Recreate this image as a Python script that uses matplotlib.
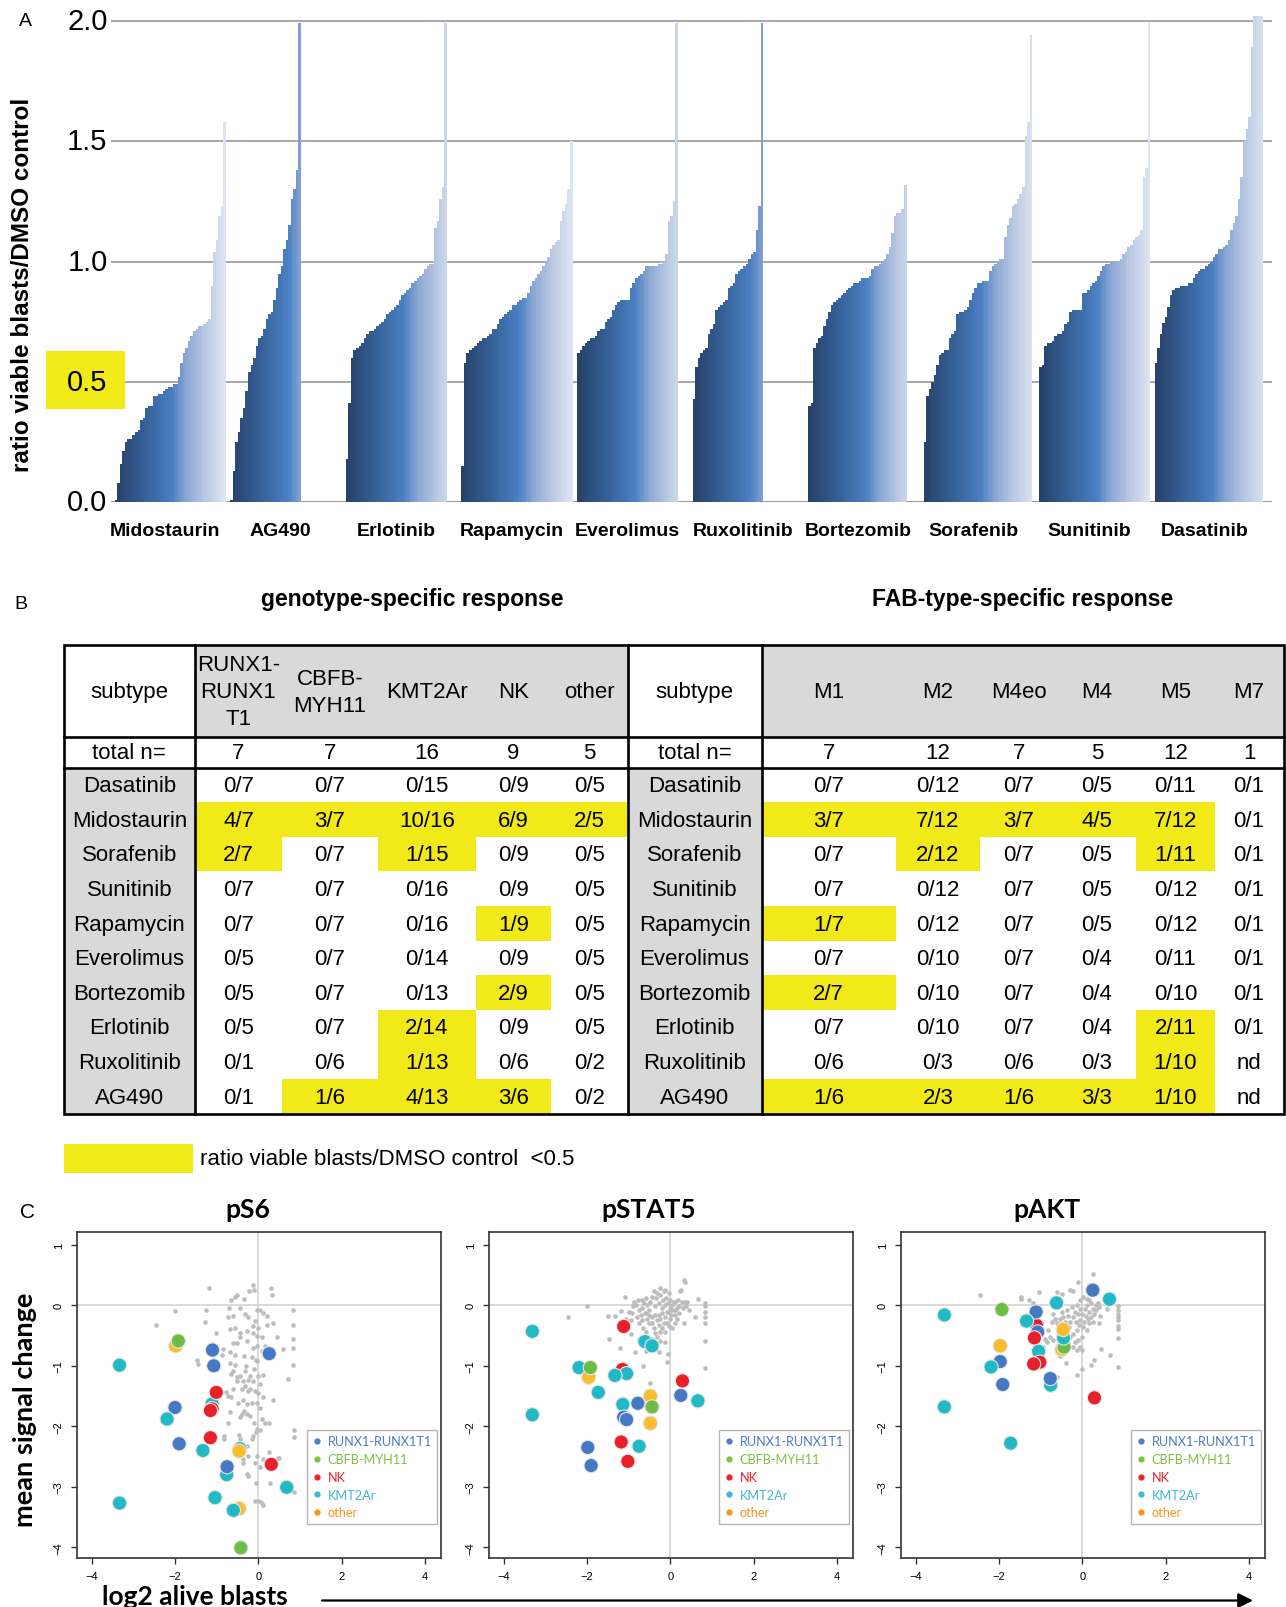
import numpy as np
import matplotlib
matplotlib.use('Agg')
import matplotlib.pyplot as plt
from matplotlib.colors import LinearSegmentedColormap
from matplotlib.patches import Rectangle
from matplotlib.lines import Line2D

W, H = 1286, 1608

# ---------------- Panel A data ----------------
drugs = ['Midostaurin', 'AG490', 'Erlotinib', 'Rapamycin', 'Everolimus',
         'Ruxolitinib', 'Bortezomib', 'Sorafenib', 'Sunitinib', 'Dasatinib']
midostaurin = [0.01, 0.08, 0.16, 0.21, 0.25, 0.26, 0.26, 0.28, 0.29, 0.30, 0.34, 0.35, 0.39, 0.40,
               0.40, 0.44, 0.44, 0.45, 0.45, 0.46, 0.47, 0.48, 0.48, 0.49, 0.49, 0.52, 0.58, 0.62,
               0.64, 0.67, 0.69, 0.71, 0.72, 0.73, 0.73, 0.74, 0.75, 0.76, 0.90, 1.04, 1.09, 1.19,
               1.23, 1.58]
ag490 = [0.01, 0.13, 0.25, 0.29, 0.35, 0.39, 0.46, 0.54, 0.57, 0.60, 0.65, 0.68, 0.69, 0.72,
         0.76, 0.78, 0.79, 0.84, 0.89, 0.95, 0.98, 1.05, 1.09, 1.15, 1.26, 1.30, 1.38, 1.99]
erlotinib = [0.18, 0.41, 0.60, 0.63, 0.64, 0.65, 0.66, 0.68, 0.70, 0.71, 0.71, 0.72, 0.73, 0.74,
             0.75, 0.76, 0.78, 0.79, 0.80, 0.81, 0.82, 0.84, 0.86, 0.87, 0.88, 0.89, 0.91, 0.92,
             0.93, 0.94, 0.95, 0.97, 0.98, 0.99, 0.99, 1.14, 1.17, 1.26, 1.31, 1.99]
rapamycin = [0.15, 0.58, 0.62, 0.63, 0.64, 0.65, 0.66, 0.67, 0.68, 0.68, 0.69, 0.70, 0.72, 0.72,
             0.74, 0.76, 0.77, 0.78, 0.79, 0.80, 0.82, 0.82, 0.83, 0.84, 0.85, 0.85, 0.87, 0.90,
             0.92, 0.93, 0.95, 0.96, 0.98, 1.00, 1.02, 1.05, 1.07, 1.08, 1.09, 1.17, 1.21, 1.24,
             1.30, 1.50]
everolimus = [0.62, 0.63, 0.65, 0.66, 0.67, 0.68, 0.68, 0.69, 0.71, 0.72, 0.72, 0.75, 0.76, 0.77,
              0.80, 0.82, 0.83, 0.84, 0.84, 0.84, 0.84, 0.89, 0.91, 0.93, 0.94, 0.95, 0.96, 0.98,
              0.98, 0.98, 0.98, 0.98, 0.99, 0.99, 1.00, 1.03, 1.17, 1.19, 1.25, 1.99]
ruxolitinib = [0.43, 0.56, 0.60, 0.62, 0.63, 0.64, 0.70, 0.72, 0.74, 0.80, 0.81, 0.82, 0.83, 0.84,
               0.89, 0.90, 0.91, 0.95, 0.96, 0.97, 0.98, 0.99, 1.01, 1.03, 1.04, 1.13, 1.23, 1.99]
bortezomib = [0.40, 0.41, 0.64, 0.66, 0.68, 0.69, 0.73, 0.76, 0.79, 0.82, 0.83, 0.84, 0.85, 0.86,
              0.87, 0.88, 0.89, 0.90, 0.91, 0.91, 0.92, 0.93, 0.93, 0.93, 0.94, 0.97, 0.98, 0.98,
              0.99, 1.00, 1.01, 1.03, 1.06, 1.12, 1.19, 1.20, 1.20, 1.22, 1.32]
sorafenib = [0.25, 0.44, 0.47, 0.50, 0.53, 0.57, 0.61, 0.62, 0.63, 0.63, 0.68, 0.70, 0.71, 0.78,
             0.79, 0.79, 0.80, 0.81, 0.84, 0.87, 0.89, 0.91, 0.91, 0.92, 0.92, 0.92, 0.96, 0.98,
             0.99, 1.00, 1.01, 1.01, 1.10, 1.15, 1.18, 1.23, 1.24, 1.26, 1.28, 1.31, 1.52, 1.58,
             1.94]
sunitinib = [0.56, 0.57, 0.65, 0.66, 0.66, 0.67, 0.69, 0.70, 0.70, 0.71, 0.74, 0.75, 0.79, 0.80,
             0.80, 0.80, 0.80, 0.87, 0.87, 0.88, 0.90, 0.91, 0.92, 0.94, 0.96, 0.98, 0.99, 0.99,
             1.00, 1.00, 1.00, 1.00, 1.01, 1.03, 1.04, 1.06, 1.07, 1.09, 1.10, 1.11, 1.13, 1.35,
             1.39, 1.99]
dasatinib = [0.58, 0.64, 0.70, 0.745, 0.77, 0.81, 0.86, 0.88, 0.89, 0.89, 0.90, 0.90, 0.90, 0.91,
             0.91, 0.93, 0.95, 0.96, 0.97, 0.97, 0.98, 0.99, 1.00, 1.02, 1.03, 1.05, 1.05, 1.06,
             1.07, 1.09, 1.13, 1.16, 1.19, 1.26, 1.35, 1.50, 1.55, 1.60, 1.89, 2.02, 2.02, 2.02,
             2.02]
bar_values = [midostaurin, ag490, erlotinib, rapamycin, everolimus,
              ruxolitinib, bortezomib, sorafenib, sunitinib, dasatinib]
yticksA = [0.0, 0.5, 1.0, 1.5, 2.0]
ytick_labelsA = ['0.0', '0.5', '1.0', '1.5', '2.0']

# ---------------- Panel B data ----------------
geno_cols = ['RUNX1-\nRUNX1\nT1', 'CBFB-\nMYH11', 'KMT2Ar', 'NK', 'other']
geno_total = ['7', '7', '16', '9', '5']
fab_cols = ['M1', 'M2', 'M4eo', 'M4', 'M5', 'M7']
fab_total = ['7', '12', '7', '5', '12', '1']
table_drugs = ['Dasatinib', 'Midostaurin', 'Sorafenib', 'Sunitinib', 'Rapamycin',
               'Everolimus', 'Bortezomib', 'Erlotinib', 'Ruxolitinib', 'AG490']
geno_resp = [
    ['0/7', '0/7', '0/15', '0/9', '0/5'],
    ['4/7', '3/7', '10/16', '6/9', '2/5'],
    ['2/7', '0/7', '1/15', '0/9', '0/5'],
    ['0/7', '0/7', '0/16', '0/9', '0/5'],
    ['0/7', '0/7', '0/16', '1/9', '0/5'],
    ['0/5', '0/7', '0/14', '0/9', '0/5'],
    ['0/5', '0/7', '0/13', '2/9', '0/5'],
    ['0/5', '0/7', '2/14', '0/9', '0/5'],
    ['0/1', '0/6', '1/13', '0/6', '0/2'],
    ['0/1', '1/6', '4/13', '3/6', '0/2']]
fab_resp = [
    ['0/7', '0/12', '0/7', '0/5', '0/11', '0/1'],
    ['3/7', '7/12', '3/7', '4/5', '7/12', '0/1'],
    ['0/7', '2/12', '0/7', '0/5', '1/11', '0/1'],
    ['0/7', '0/12', '0/7', '0/5', '0/12', '0/1'],
    ['1/7', '0/12', '0/7', '0/5', '0/12', '0/1'],
    ['0/7', '0/10', '0/7', '0/4', '0/11', '0/1'],
    ['2/7', '0/10', '0/7', '0/4', '0/10', '0/1'],
    ['0/7', '0/10', '0/7', '0/4', '2/11', '0/1'],
    ['0/6', '0/3', '0/6', '0/3', '1/10', 'nd'],
    ['1/6', '2/3', '1/6', '3/3', '1/10', 'nd']]

# ---------------- Panel C data ----------------
group_names = ['RUNX1-RUNX1T1', 'CBFB-MYH11', 'NK', 'KMT2Ar', 'other']
group_codes = ['R', 'C', 'N', 'K', 'O']

ps6_gray_x = [-1.18, -0.14, 0.30, 0.32, -0.22, -0.10, -0.52, -0.66, -0.34, -0.56, -1.26, -2.00, -0.70, -0.44,
              -0.04, 0.04, 0.12, 0.20, 0.84, -2.46, -1.28, -0.74, -0.60, -0.32, -0.24, -0.08, -0.14, 0.00,
              0.20, 0.36, 0.84, -1.02, -0.68, -0.56, -0.44, -0.28, -0.12, -0.04, 0.08, 0.44, 0.84, -1.08,
              -0.86, -0.62, -0.52, -0.44, -0.28, -0.12, -0.04, 0.16, 0.60, 0.84, -0.88, -0.68, -0.55, -0.34,
              -0.16, -0.04, 0.08, -1.48, -1.44, -0.69, -0.56, -0.30, -0.10, -0.06, 0.84, -0.60, -0.52, -0.32,
              -0.66, -0.44, -0.20, -0.02, 0.10, 0.70, -0.52, -0.36, -0.24, -0.12, 0.04, -0.32, -0.60, -0.40,
              -0.26, -0.20, -0.08, 0.00, 0.12, 0.34, -0.78, -0.72, -0.66, -0.48, -0.36, -0.28, -0.16, -0.04,
              0.04, -0.34, -0.28, -0.44, -0.68, -0.40, -0.20, 0.08, 0.16, 0.26, -0.72, -0.10, -0.04, -0.06,
              0.04, 0.86, 0.86, -0.82, -0.82, -0.46, -0.44, -0.12, -0.16, -0.48, -0.28, -0.24, -0.38, -0.36,
              -0.04, -0.08, 0.12, 0.26, 0.46, 0.50, -0.28, -0.26, -0.06, 0.28, 0.86, -0.08, 0.00, 0.12,
              0.06, 0.04]
ps6_gray_y = [0.29, 0.34, 0.29, 0.17, 0.24, 0.26, 0.17, 0.08, 0.10, 0.13, -0.07, -0.10, -0.04, -0.04,
              -0.07, -0.07, -0.13, -0.17, -0.08, -0.33, -0.27, -0.20, -0.18, -0.15, -0.20, -0.26, -0.34, -0.37,
              -0.33, -0.29, -0.33, -0.45, -0.40, -0.37, -0.45, -0.42, -0.45, -0.51, -0.53, -0.53, -0.56, -0.64,
              -0.73, -0.63, -0.62, -0.53, -0.59, -0.70, -0.67, -0.67, -0.72, -0.70, -0.83, -0.78, -0.82, -0.84,
              -0.86, -0.92, -0.75, -0.90, -0.97, -0.95, -0.99, -1.00, -1.06, -0.90, -0.99, -1.08, -1.19, -1.08,
              -1.13, -1.17, -1.17, -1.17, -1.16, -1.22, -1.25, -1.25, -1.23, -1.25, -1.30, -1.33, -1.39, -1.39,
              -1.41, -1.39, -1.41, -1.45, -1.52, -1.56, -1.43, -1.50, -1.52, -1.61, -1.56, -1.63, -1.61, -1.61,
              -1.69, -1.74, -1.80, -1.84, -1.76, -1.80, -1.83, -1.88, -1.94, -1.95, -1.94, -1.95, -2.05, -2.10,
              -2.07, -2.06, -2.17, -2.16, -2.21, -2.15, -2.21, -2.16, -2.21, -2.29, -2.32, -2.49, -2.54, -2.60,
              -2.49, -2.60, -2.54, -2.43, -2.53, -2.53, -2.79, -2.83, -2.93, -2.93, -3.09, -3.23, -3.23, -3.31,
              -3.26, -2.68]
ps6_col_x = [-3.33, -3.33, -1.98, -1.92, -1.10, -1.07, 0.26, -1.11, -1.01, -1.11, -1.15, -2.00, -2.19,
             -1.90, -1.15, -1.33, -0.44, -0.46, 0.31, -0.76, -0.75, 0.68, -1.04, -0.46, -0.60, -0.42]
ps6_col_y = [-0.99, -3.27, -0.67, -0.59, -0.74, -1.00, -0.80, -1.63, -1.44, -1.71, -1.74, -1.69, -1.88,
             -2.29, -2.19, -2.40, -2.37, -2.41, -2.63, -2.80, -2.67, -3.01, -3.18, -3.36, -3.39, -4.01]
ps6_col_g = ['K', 'K', 'O', 'C', 'R', 'R', 'R', 'K', 'N', 'N', 'N', 'R', 'K',
             'R', 'N', 'K', 'K', 'O', 'N', 'K', 'R', 'K', 'K', 'O', 'K', 'C']

pstat5_gray_x = [-2.46, -2.00, -1.49, -1.33, -1.19, -1.10, -0.99, -0.90, -0.83, -0.77, -0.67, -0.69, -0.63,
                 -0.59, -0.55, -0.51, -0.48, -0.44, -0.40, -0.36, -0.34, -0.32, -0.28, -0.26, -0.24, -0.20,
                 -0.18, -0.16, -0.13, -0.12, -0.10, -0.08, -0.06, -0.04, -0.02, 0.00, 0.02, 0.04, 0.08, 0.10,
                 0.12, 0.16, 0.18, 0.20, 0.24, 0.26, 0.28, 0.30, 0.32, 0.36, 0.37, 0.40, 0.44, 0.59, 0.66,
                 0.82, 0.83, 0.83, 0.83, 0.83, 0.83, 0.83, -0.79, -0.75, -0.67, -0.66, -0.59, -0.55, -0.51,
                 -0.44, -0.40, -0.37, -0.32, -0.28, -0.26, -0.24, -0.20, -0.16, -0.12, -0.08, -0.04, 0.00,
                 0.04, 0.12, 0.32, -1.47, -1.21, -0.95, -0.85, -0.66, -0.58, -0.50, -0.28, -0.25, -0.13,
                 -0.06, -0.08, -0.44, -0.32, -0.75, -1.03, -1.05, -0.95, -0.91, -0.75, -1.07, -1.19, -0.62,
                 -0.87, -0.36, -0.44, -0.59, -0.51, -0.71, -0.28, -0.12, -0.20, -0.04, 0.12, 0.20, 0.04,
                 0.16, 0.36]
pstat5_gray_y = [-0.20, -0.01, -0.18, -0.17, -0.09, 0.14, -0.11, -0.01, 0.01, 0.09, 0.09, -0.05, 0.03,
                 0.12, 0.01, -0.08, 0.06, 0.14, 0.23, -0.02, 0.12, 0.20, 0.03, 0.17, 0.28, -0.05,
                 0.09, 0.23, 0.01, 0.25, 0.12, -0.11, 0.03, 0.20, -0.05, 0.09, -0.16, 0.01, 0.06, -0.08,
                 0.06, -0.22, 0.09, -0.02, 0.23, 0.25, 0.06, -0.05, 0.42, 0.39, -0.02, 0.06, -0.08, -0.19, 0.11,
                 0.03, -0.02, -0.11, -0.19, -0.30, -0.59, -1.03, -0.19, -0.30, -0.24, -0.38, -0.44, -0.22, -0.30,
                 -0.30, -0.38, -0.46, -0.24, -0.33, -0.44, -0.22, -0.38, -0.30, -0.44, -0.30, -0.35, -0.22,
                 -0.38, -0.30, -0.30, -0.55, -0.70, -0.48, -0.78, -1.01, -0.76, -1.28, -0.78, -0.59, -0.60,
                 -0.80, -0.93, -0.55, -0.52, -0.55, -0.38, -0.30, -0.24, -0.13, -0.08, -0.22, -0.41, -0.13,
                 0.06, -0.16, -0.19, -0.13, -0.16, -0.16, -0.16, -0.19, -0.13, -0.11, -0.16, -0.13, -0.08,
                 -0.05, 0.06]
pstat5_col_x = [-3.31, -3.31, -1.12, -0.61, -0.44, -2.19, -1.96, -1.92, -1.15, -1.05, -1.33, -1.73, 0.29,
                0.25, 0.66, -0.48, -0.44, -0.78, -1.14, -1.12, -1.05, -0.48, -1.98, -1.90, -1.18, -0.75,
                -1.02]
pstat5_col_y = [-0.43, -1.81, -0.35, -0.60, -0.67, -1.03, -1.19, -1.03, -1.06, -1.13, -1.16, -1.44, -1.25,
                -1.49, -1.58, -1.50, -1.68, -1.62, -1.64, -1.85, -1.89, -1.95, -2.35, -2.65, -2.26, -2.33,
                -2.58]
pstat5_col_g = ['K', 'K', 'N', 'K', 'K', 'K', 'O', 'C', 'N', 'K', 'K', 'K', 'N',
                'R', 'K', 'O', 'C', 'R', 'K', 'R', 'R', 'O', 'R', 'R', 'N', 'K', 'N']

pakt_gray_x = [-2.45, -1.48, -1.46, -1.27, -1.19, -1.03, -0.76, -0.60, -0.49, -0.30, -0.22, -0.10, 0.25,
               0.16, -0.05, 0.02, 0.10, 0.17, 0.21, 0.25, 0.33, 0.37, 0.41, 0.59, 0.85, 0.85, 0.85, 0.85,
               0.85, 0.85, 0.85, 0.85, 0.85, 0.67, 0.45, 0.29, 0.21, 0.00, -0.13, -0.40, -0.54, -0.62,
               -0.22, -0.10, -0.02, -0.14, -0.38, -0.74, -0.70, -0.66, -0.62, -0.58, -0.54, -0.50, -0.46,
               -0.42, -0.38, -0.34, -0.32, -0.29, -0.26, -0.22, -0.18, -0.16, -0.14, -0.13, -0.10, -0.08,
               -0.06, -0.05, -0.02, 0.00, 0.02, 0.03, 0.06, 0.08, 0.10, 0.11, 0.14, 0.16, 0.17, 0.21, 0.25,
               0.29, 0.33, 0.41, 0.43, -0.82, -0.78, -0.86, -0.95, -0.90, -0.54, -0.42, -0.30, -0.22, -0.46,
               -0.62, -0.18, -0.06, -0.70, -0.54]
pakt_gray_y = [0.17, 0.14, 0.11, 0.08, 0.03, 0.22, 0.06, 0.22, 0.19, 0.26, 0.23, 0.39, 0.52,
               0.34, 0.08, 0.14, 0.11, 0.08, 0.03, -0.06, 0.00, 0.03, -0.03, -0.06, -0.02, -0.08, -0.14, -0.19,
               -0.25, -0.35, -0.40, -0.54, -1.02, -0.82, -0.73, -0.90, -0.99, -1.05, -1.16, -0.96, -0.84, -1.19,
               -0.69, -0.58, -0.74, -0.74, -0.63, -0.28, -0.14, -0.22, -0.30, -0.41, -0.22, -0.11, -0.19,
               -0.28, -0.08, -0.17, -0.36, -0.28, -0.03, -0.19, -0.11, -0.28, 0.00, -0.41, -0.14, -0.33,
               -0.06, -0.25, -0.52, -0.14, -0.36, -0.28, -0.06, -0.17, -0.41, 0.00, -0.22, -0.30, -0.11, -0.19, -0.28,
               -0.14, -0.08, -0.30, -0.17, -0.41, -0.52, -0.61, -0.69, -0.55, -0.55, -0.47, -0.52, -0.47, -0.63,
               -0.69, -0.61, -0.69, -0.58, -0.80]
pakt_col_x = [-3.31, -3.31, -1.93, -1.97, -1.97, -2.19, -1.91, -1.72, -1.10, -1.11, -1.34, -1.07, -1.15,
              -1.05, -1.02, -1.17, -0.76, -0.77, -0.62, -0.49, -0.44, -0.45, -0.46, 0.25, 0.65, 0.29]
pakt_col_y = [-0.16, -1.68, -0.07, -0.67, -0.93, -1.02, -1.31, -2.28, -0.33, -0.11, -0.26, -0.44, -0.54,
              -0.76, -0.94, -0.97, -1.32, -1.21, 0.04, -0.73, -0.69, -0.54, -0.40, 0.25, 0.10, -1.53]
pakt_col_g = ['K', 'K', 'C', 'O', 'R', 'K', 'R', 'K', 'N', 'R', 'K', 'R', 'N',
              'K', 'N', 'N', 'K', 'R', 'K', 'O', 'C', 'K', 'O', 'R', 'K', 'N']

panel_titles = ['pS6', 'pSTAT5', 'pAKT']
xticksC = [-4, -2, 0, 2, 4]
yticksC = [1, 0, -1, -2, -3, -4]

# ---------------- styles ----------------
marker_colors = {'R': '#4579c3', 'C': '#6dbd45', 'N': '#e8202a', 'K': '#22b9c6', 'O': '#fbbd2c'}
legend_colors = ['#4a7fc4', '#7dc242', '#e8242a', '#41b6d0', '#f7941e']
YEL = '#f2ea18'
GRAYCELL = '#d9d9d9'
SANS = 'Liberation Sans'
CAL = 'Lato'

fig = plt.figure(figsize=(W / 100, H / 100), dpi=100)

# background pixel-coordinate axes
axF = fig.add_axes([0, 0, 1, 1], zorder=-5)
axF.set_xlim(0, W)
axF.set_ylim(H, 0)
axF.axis('off')

# ================= Panel A =================
top_px = 17.2
axA = fig.add_axes([111 / W, 1 - 503 / H, 1161 / W, (503 - top_px) / H])
axA.set_facecolor('none')
axA.set_xlim(0, 460.2)
axA.set_ylim(0, 2.02)
cmap = LinearSegmentedColormap.from_list(
    'g', [(0, '#27426a'), (0.28, '#36629a'), (0.52, '#4a80c2'), (0.65, '#8ca7d4'),
          (0.82, '#b8c7e3'), (1, '#dce4f1')])
pitch, off = 45.8, 1.55
for k, vals in enumerate(bar_values):
    vals = np.minimum(np.array(vals), 2.02)
    idx = np.arange(len(vals))
    axA.bar(k * pitch + off + idx + 0.5, vals, width=1.08, color=cmap(idx / 43.0),
            linewidth=0, zorder=2)
axA.set_yticks(yticksA)
axA.yaxis.grid(True, color='#a8a8a8', lw=1.4)
axA.set_axisbelow(True)
axA.tick_params(axis='y', length=0, labelleft=False)
for sp in axA.spines.values():
    sp.set_visible(False)
axA.axhline(0, color='#9a9a9a', lw=1.4, zorder=1)
for v, lab in zip(yticksA, ytick_labelsA):
    axA.text(-0.003, v, lab, transform=axA.get_yaxis_transform(), ha='right', va='center',
             fontsize=21, family=SANS, zorder=5)
axA.add_patch(Rectangle((46 / W, 1 - 410 / H), 79 / W, 58 / H, transform=fig.transFigure,
                        facecolor=YEL, edgecolor='none', clip_on=False, zorder=0.8))
axA.set_xticks([k * pitch + pitch / 2 - 1.5 for k in range(len(drugs))])
axA.set_xticklabels(drugs, fontsize=14, fontweight='bold', family=SANS)
axA.tick_params(axis='x', length=0, pad=14.5)
fig.text(22.5 / W, 1 - 285 / H, 'ratio viable blasts/DMSO control', rotation=90, ha='center',
         va='center', fontsize=17.5, fontweight='bold', family=SANS)
fig.text(25.7 / W, 1 - 21 / H, 'A', ha='center', va='center', fontsize=14, family=SANS)

# ================= Panel B =================
axF.text(20.5, 605, 'B', ha='center', va='center', fontsize=14, family=SANS)
axF.text(412.5, 600, 'genotype-specific response', ha='center', va='center', fontsize=16.5,
         fontweight='bold', family=SANS)
axF.text(1022.5, 600, 'FAB-type-specific response', ha='center', va='center', fontsize=16.5,
         fontweight='bold', family=SANS)

xe = [63.6, 195, 282, 378, 475.5, 551, 627.6, 761.5, 896, 980, 1057.5, 1136, 1214.7, 1283.5]
y_top, y_h, y_t = 645.9, 738.3, 768.7
row_h = (1114.6 - y_t) / 10
y_bot = y_t + 10 * row_h
TFS = 16


def cell(x0, x1, y0, y1, fc):
    axF.add_patch(Rectangle((x0, y0), x1 - x0, y1 - y0, facecolor=fc, edgecolor='none', zorder=1))


def draw_table(ci0, cols, totals, resp):
    ncol = len(cols)
    cell(xe[ci0 + 1], xe[ci0 + 1 + ncol], y_top, y_h, GRAYCELL)
    cell(xe[ci0], xe[ci0 + 1], y_t, y_bot, GRAYCELL)
    xc0 = (xe[ci0] + xe[ci0 + 1]) / 2
    axF.text(xc0, 692.8, 'subtype', ha='center', va='center', fontsize=TFS, family=SANS, zorder=3)
    axF.text(xc0, 753.9, 'total n=', ha='center', va='center', fontsize=TFS, family=SANS, zorder=3)
    for j, c in enumerate(cols):
        xa, xb = xe[ci0 + 1 + j], xe[ci0 + 2 + j]
        xc = (xa + xb) / 2
        axF.text(xc, 692.8, c, ha='center', va='center', fontsize=TFS, family=SANS,
                 linespacing=1.38, multialignment='center', zorder=3)
        axF.text(xc, 753.9, totals[j], ha='center', va='center', fontsize=TFS, family=SANS, zorder=3)
    for r, drug in enumerate(table_drugs):
        y0 = y_t + r * row_h
        yc = y0 + row_h / 2 + 0.8
        axF.text(xc0, yc, drug, ha='center', va='center', fontsize=TFS, family=SANS, zorder=3)
        for j in range(ncol):
            xa, xb = xe[ci0 + 1 + j], xe[ci0 + 2 + j]
            val = resp[r][j]
            if val != 'nd' and int(val.split('/')[0]) > 0:
                cell(xa, xb, y0, y0 + row_h, YEL)
            axF.text((xa + xb) / 2, yc, val, ha='center', va='center', fontsize=TFS,
                     family=SANS, zorder=3)


draw_table(0, geno_cols, geno_total, geno_resp)
draw_table(6, fab_cols, fab_total, fab_resp)
LW = 1.9
axF.add_patch(Rectangle((xe[0], y_top), xe[-1] - xe[0], y_bot - y_top, facecolor='none',
                        edgecolor='black', lw=LW, zorder=4))
for yy in (y_h, y_t):
    axF.plot([xe[0], xe[-1]], [yy, yy], color='black', lw=LW, zorder=4)
for xi in (1, 6, 7):
    axF.plot([xe[xi], xe[xi]], [y_top, y_bot], color='black', lw=LW, zorder=4)

axF.add_patch(Rectangle((63.6, 1144.5), 129.2, 29.5, facecolor=YEL, edgecolor='none'))
axF.text(200, 1160, 'ratio viable blasts/DMSO control  <0.5', ha='left', va='center',
         fontsize=TFS, family=SANS)

# ================= Panel C =================
axF.text(27.7, 1213, 'C', ha='center', va='center', fontsize=15, family=SANS)
panels = [(ps6_gray_x, ps6_gray_y, ps6_col_x, ps6_col_y, ps6_col_g),
          (pstat5_gray_x, pstat5_gray_y, pstat5_col_x, pstat5_col_y, pstat5_col_g),
          (pakt_gray_x, pakt_gray_y, pakt_col_x, pakt_col_y, pakt_col_g)]
lefts = [77, 489, 901]
title_fx = [0.47, 0.44, 0.40]
for j, (gx, gy, cx, cy, cg) in enumerate(panels):
    ax = fig.add_axes([lefts[j] / W, 1 - 1558.5 / H, 364 / W, 326 / H])
    ax.set_xlim(-4.35, 4.38)
    ax.set_ylim(-4.17, 1.22)
    ax.axhline(0, color='#cfcfcf', lw=1.1, zorder=0.5)
    ax.axvline(0, color='#cfcfcf', lw=1.1, zorder=0.5)
    ax.scatter(gx, gy, s=11, color='#bdbdbd', linewidths=0, zorder=2)
    ax.scatter(cx, cy, s=105, c=[marker_colors[g] for g in cg], edgecolors='#e6e6e6',
               linewidths=0.8, zorder=3)
    ax.set_xticks(xticksC)
    ax.set_yticks(yticksC)
    ax.set_xticklabels([str(v).replace('-', '\u2212') for v in xticksC], fontsize=8, family=SANS)
    ax.set_yticklabels([str(v).replace('-', '\u2212') for v in yticksC], fontsize=8, family=SANS,
                       rotation=90, va='center')
    ax.tick_params(direction='out', length=4.5, width=1, color='#333333', pad=5)
    for sp in ax.spines.values():
        sp.set_color('#333333')
        sp.set_linewidth(1.2)
    ax.text(title_fx[j], 1 + 22.5 / 326, panel_titles[j], transform=ax.transAxes, ha='center',
            va='center', fontsize=19, fontweight='bold', family=CAL)
    handles = [Line2D([], [], marker='o', ls='none', color=legend_colors[i], markersize=3.5)
               for i in range(len(group_names))]
    leg = ax.legend(handles, group_names, loc='lower right', bbox_to_anchor=(0.989, 0.104),
                    prop={'family': CAL, 'size': 9.2}, labelcolor=legend_colors,
                    frameon=True, fancybox=False, edgecolor='#b5b5b5', framealpha=1,
                    handlelength=0.8, handletextpad=0.45, labelspacing=0.45, borderpad=0.4,
                    borderaxespad=0)
    leg.get_frame().set_linewidth(1.0)

fig.text(24.7 / W, 1 - 1410 / H, 'mean signal change', rotation=90, ha='center', va='center',
         fontsize=19.5, fontweight='bold', family=CAL)
axF.text(195, 1597, 'log2 alive blasts', ha='center', va='center', fontsize=19,
         fontweight='bold', family=CAL)
axF.annotate('', xy=(1253, 1601.5), xytext=(322, 1601.5),
             arrowprops=dict(arrowstyle='-|>', lw=1.6, color='black', mutation_scale=22,
                             shrinkA=0, shrinkB=0))

fig.savefig('out.png', dpi=100)
